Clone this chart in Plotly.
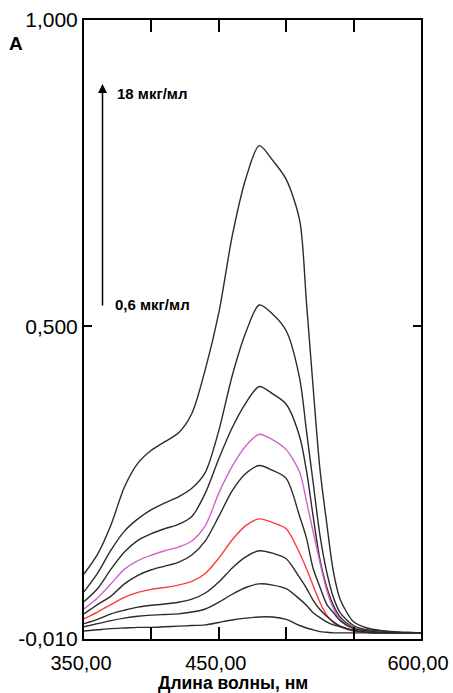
import plotly.graph_objects as go

# Wavelength grid (nm)
wavelength = [350, 360, 370, 380, 390, 400, 410, 420, 430, 440, 450, 460, 470, 480, 490,
              500, 510, 515, 520, 525, 530, 535, 540, 550, 560, 570, 580, 590, 600]

# Absorbance spectra, from highest (18 мкг/мл) to lowest (0,6 мкг/мл)
c1 = [0.096, 0.128, 0.176, 0.238, 0.277, 0.298, 0.312, 0.326, 0.358, 0.430, 0.522, 0.648, 0.741, 0.795, 0.771,
      0.740, 0.673, 0.540, 0.400, 0.268, 0.180, 0.100, 0.055, 0.018, 0.008, 0.004, 0.002, 0.001, 0.000]
c2 = [0.067, 0.097, 0.135, 0.166, 0.186, 0.201, 0.212, 0.222, 0.236, 0.262, 0.330, 0.420, 0.490, 0.535, 0.520,
      0.493, 0.415, 0.330, 0.245, 0.160, 0.100, 0.058, 0.033, 0.012, 0.005, 0.003, 0.001, 0.000, 0.000]
c3 = [0.051, 0.072, 0.104, 0.132, 0.151, 0.162, 0.170, 0.177, 0.190, 0.228, 0.284, 0.335, 0.375, 0.402, 0.390,
      0.373, 0.320, 0.265, 0.190, 0.120, 0.075, 0.045, 0.026, 0.009, 0.004, 0.002, 0.001, 0.000, 0.000]
c4 = [0.039, 0.057, 0.080, 0.104, 0.118, 0.127, 0.134, 0.140, 0.150, 0.175, 0.228, 0.272, 0.305, 0.324, 0.315,
      0.299, 0.262, 0.215, 0.165, 0.115, 0.070, 0.040, 0.022, 0.008, 0.003, 0.001, 0.000, 0.000, 0.000]
c5 = [0.031, 0.046, 0.060, 0.080, 0.094, 0.103, 0.109, 0.115, 0.127, 0.150, 0.190, 0.232, 0.260, 0.273, 0.265,
      0.252, 0.190, 0.155, 0.105, 0.075, 0.047, 0.033, 0.020, 0.007, 0.003, 0.001, 0.000, 0.000, 0.000]
c6 = [0.023, 0.034, 0.046, 0.058, 0.066, 0.071, 0.074, 0.078, 0.084, 0.097, 0.122, 0.152, 0.175, 0.186, 0.180,
      0.170, 0.130, 0.105, 0.077, 0.050, 0.029, 0.017, 0.010, 0.003, 0.001, 0.000, 0.000, 0.000, 0.000]
c7 = [0.015, 0.022, 0.031, 0.037, 0.042, 0.045, 0.047, 0.050, 0.055, 0.065, 0.083, 0.106, 0.124, 0.134, 0.130,
      0.121, 0.090, 0.073, 0.053, 0.038, 0.027, 0.018, 0.011, 0.004, 0.001, 0.000, 0.000, 0.000, 0.000]
c8 = [0.010, 0.015, 0.020, 0.024, 0.027, 0.029, 0.030, 0.031, 0.034, 0.039, 0.050, 0.063, 0.074, 0.080, 0.078,
      0.072, 0.055, 0.045, 0.033, 0.025, 0.018, 0.013, 0.010, 0.004, 0.001, 0.000, 0.000, 0.000, 0.000]
c9 = [0.003, 0.005, 0.007, 0.008, 0.009, 0.009, 0.010, 0.011, 0.012, 0.013, 0.017, 0.021, 0.024, 0.026, 0.026,
      0.022, 0.012, 0.008, 0.005, 0.002, 0.001, 0.000, 0.000, 0.000, 0.000, 0.000, 0.000, 0.000, 0.000]

series = [c1, c2, c3, c4, c5, c6, c7, c8, c9]
colors = ["#2b2b2b", "#2b2b2b", "#2b2b2b", "#cc66cc", "#2b2b2b", "#ff3b3b", "#2b2b2b", "#2b2b2b", "#2b2b2b"]

x_tickvals = [350, 400, 450, 500, 550, 600]
x_ticktext = ["350,00", "", "450,00", "", "", "600,00"]
y_tickvals = [-0.01, 0.5, 1.0]
y_ticktext = ["-0,010", "0,500", "1,000"]

fig = go.Figure()
for s, c in zip(series, colors):
    fig.add_trace(go.Scatter(x=wavelength, y=s, mode="lines",
                             line=dict(color=c, width=1.4, shape="spline", smoothing=0.8),
                             showlegend=False, hoverinfo="skip"))

W, H = 453, 693
L, R, T, B = 84, 421, 20, 639
def px(xp):
    return (xp - L) / (R - L)
def py(yp):
    return (B - yp) / (B - T)

font_family = "Liberation Sans, Arial, sans-serif"

fig.update_layout(
    template="none",
    width=W, height=H,
    margin=dict(l=L, r=W - R, t=T, b=H - B, pad=0, autoexpand=False),
    paper_bgcolor="white", plot_bgcolor="white",
    font=dict(family=font_family, color="black"),
    xaxis=dict(range=[350, 600], tickvals=x_tickvals, ticktext=x_ticktext,
               ticks="inside", ticklen=12, tickwidth=2, tickcolor="black",
               showline=True, linewidth=2, linecolor="black", mirror="ticks",
               showgrid=False, zeroline=False, tickfont=dict(size=20),
               ticklabelstandoff=5, ticklabelshift=-3, ticklabeloverflow="allow",
               automargin=False),
    yaxis=dict(range=[-0.01, 1.0], tickvals=y_tickvals, ticktext=y_ticktext,
               ticks="inside", ticklen=8, tickwidth=2, tickcolor="black",
               showline=True, linewidth=2, linecolor="black", mirror="ticks",
               showgrid=False, zeroline=False, tickfont=dict(size=21),
               ticklabeloverflow="allow", automargin=False),
)

ann = [
    dict(text="<b>A</b>", x=px(16), y=py(43), xref="paper", yref="paper",
         showarrow=False, font=dict(size=19), xanchor="center", yanchor="middle"),
    dict(text="<b>18 мкг/мл</b>", x=px(115), y=py(93), xref="paper", yref="paper",
         showarrow=False, font=dict(size=15), xanchor="left", yanchor="middle"),
    dict(text="<b>0,6 мкг/мл</b>", x=px(113), y=py(304), xref="paper", yref="paper",
         showarrow=False, font=dict(size=15), xanchor="left", yanchor="middle"),
    dict(text="", x=px(102.5), y=py(84), xref="paper", yref="paper",
         showarrow=True, ax=0, ay=223, arrowhead=2, arrowsize=1.2, arrowwidth=1.5,
         arrowcolor="black", standoff=0, startstandoff=0),
    dict(text="<b>Длина волны, нм</b>", x=px(233), y=py(683), xref="paper", yref="paper",
         showarrow=False, font=dict(size=17.5), xanchor="center", yanchor="middle"),
]
fig.update_layout(annotations=ann)

fig.write_html("out.html")
